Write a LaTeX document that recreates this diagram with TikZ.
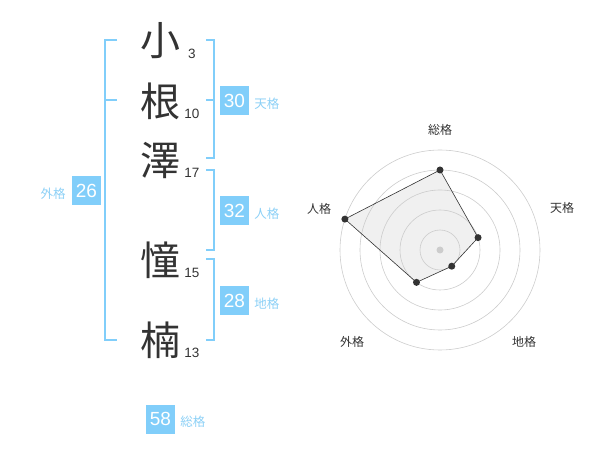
\documentclass[tikz,border=0pt]{standalone}
\usepackage{fontspec}
\setmainfont{Liberation Sans}
\newfontfamily\jp{Noto Sans CJK JP}
\usetikzlibrary{positioning,calc}
\definecolor{kakublue}{RGB}{129,206,250}
\definecolor{kakulabel}{RGB}{140,208,246}
\definecolor{inkgray}{RGB}{51,51,51}
\tikzstyle{kanji} = [text=inkgray,font=\jp\fontsize{40}{40}\selectfont,inner sep=0pt]
\tikzstyle{strokes} = [text=inkgray,font=\fontsize{13.5}{14}\selectfont,inner sep=0pt]
\tikzstyle{kakubox} = [fill=kakublue,text=white,minimum size=29pt,inner sep=0pt,font=\fontsize{19}{19}\selectfont]
\tikzstyle{kakuname} = [text=kakulabel,font=\jp\fontsize{12.5}{13}\selectfont,inner sep=0pt]
\tikzstyle{bracket} = [draw=kakublue,line width=1.8pt]
\tikzstyle{ring} = [draw=black!20,line width=0.6pt]
\tikzstyle{axisname} = [text=inkgray,font=\jp\fontsize{12}{12}\selectfont,inner sep=0pt]
\tikzstyle{dot} = [circle,fill=inkgray,inner sep=0pt,minimum size=7pt]

\begin{document}
\begin{tikzpicture}[x=1pt,y=-1pt]
\useasboundingbox (0,0) rectangle (600,470);
% name and stroke counts
\foreach \k/\n/\y [count=\i] in {小/3/41,根/10/101,澤/17/160,憧/15/260,楠/13/340} {
	\node[kanji] (char\i) at (160,\y) {\k};
	\node[strokes] (stroke\i) at (192,\y+12.5) {\n};
}
% brackets
\draw[bracket] (117,40) -| (105,340) -- (117,340);
\draw[bracket] (105,100) -- (117,100);
\draw[bracket] (206,40) -| (214,158) -- (206,158);
\draw[bracket] (206,100) -- (214,100);
\draw[bracket] (206,170) -| (214,250) -- (206,250);
\draw[bracket] (206,259) -| (214,340) -- (206,340);
% kaku boxes
\foreach \v/\lab/\y in {30/天格/100.5,32/人格/210.5,28/地格/300.5} {
	\node[kakubox] at (234.5,\y) (box\v) {\v};
	\node[kakuname,right=5pt of box\v,yshift=-3pt] (name\v) {\lab};
}
\node[kakubox] at (86.5,190.5) (box26) {26};
\node[kakuname,left=6pt of box26,yshift=-3pt] (name26) {外格};
\node[kakubox] at (160.5,419) (box58) {58};
\node[kakuname,right=5pt of box58,yshift=-3pt] (name58) {総格};

% radar chart
\coordinate (hub) at (440,250);
\foreach \nm/\a/\r in {sou/-90/80,ten/-18/40,chi/54/20,gai/126/40,jin/198/100}
	\coordinate (pt-\nm) at ($(hub)+(\a:\r)$);
\fill[black!6] (pt-sou) -- (pt-ten) -- (pt-chi) -- (pt-gai) -- (pt-jin) -- cycle;
\foreach \r in {20,40,...,100}
	\draw[ring] (hub) circle[radius=\r];
\draw[inkgray,line width=0.6pt] (pt-sou) -- (pt-ten) -- (pt-chi) -- (pt-gai) -- (pt-jin) -- cycle;
\node[dot,fill=black!20] (hubdot) at (hub) {};
\foreach \nm in {sou,ten,chi,gai,jin}
	\node[dot] (dot-\nm) at (pt-\nm) {};
\node[axisname] (ax-sou) at (440,130) {総格};
\node[axisname] (ax-ten) at (562,208) {天格};
\node[axisname] (ax-chi) at (524,342) {地格};
\node[axisname] (ax-gai) at (352,342) {外格};
\node[axisname] (ax-jin) at (319,209) {人格};
\end{tikzpicture}
\end{document}
